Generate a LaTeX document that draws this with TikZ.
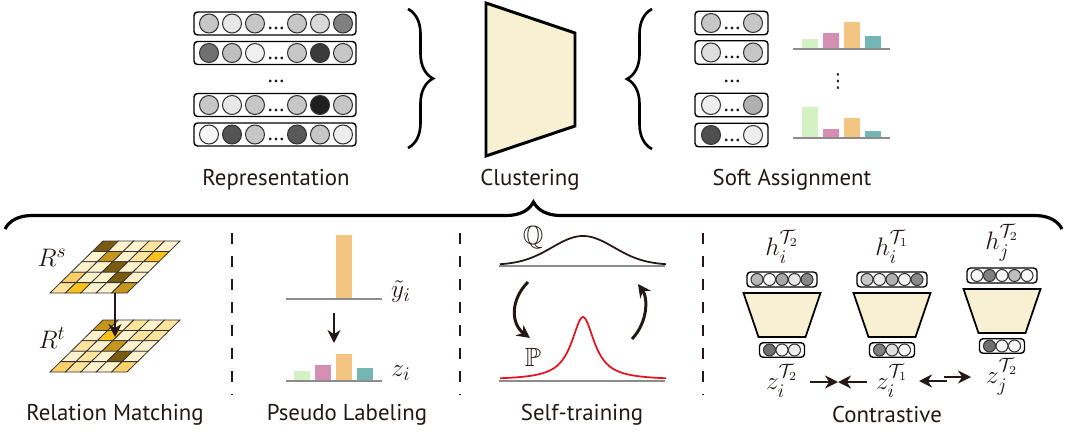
\documentclass[tikz,border=0pt]{standalone}
\usepackage{amsmath,amssymb}
\usepackage{fontspec}
\setmainfont{PT Sans}
\newfontfamily\symfont{DejaVu Sans}
\usetikzlibrary{arrows.meta,decorations.pathreplacing}
\definecolor{ink}{HTML}{231815}
\definecolor{cream}{HTML}{F7F0D3}
\definecolor{axisgray}{HTML}{8C8C8C}
\definecolor{barA}{HTML}{D4F1C4}
\definecolor{barB}{HTML}{D58FB2}
\definecolor{barC}{HTML}{F3C482}
\definecolor{barD}{HTML}{74B6B4}
\definecolor{cellC}{HTML}{FFF2CC}
\definecolor{cellL}{HTML}{FEE39C}
\definecolor{cellO}{HTML}{FBD06A}
\definecolor{cellY}{HTML}{FCC21C}
\definecolor{cellG}{HTML}{C6961C}
\definecolor{cellB}{HTML}{7B5B12}
\definecolor{peak}{HTML}{E5141E}

\begin{document}
\begin{tikzpicture}[x=0.02cm,y=-0.02cm,
  font=\fontsize{13}{15}\selectfont, text=ink,
  vec/.style={draw=black, line width=0.8pt, rounded corners=2pt, inner sep=0pt},
  unit/.style={draw=black!80, line width=0.6pt},
  enc/.style={draw=black, line width=1pt, fill=cream},
  axis/.style={draw=axisgray, line width=1.2pt},
  cell/.style={draw=black!80, line width=0.45pt},
  flow/.style={-{Stealth[length=2.6mm,width=2.6mm]}, line width=1.7pt, draw=ink},
  sep/.style={draw=ink, line width=1.7pt, dash pattern=on 0.22cm off 0.24cm},
  brc/.style={draw=black, line width=1.5pt, decorate},
  mlab/.style={font=\fontsize{15}{17}\selectfont}]

\path[use as bounding box] (0,0) rectangle (1069,433);

% ------------------------------------------------------------ representation
\foreach \y/\a/\b/\c/\d/\e/\f [count=\k] in
  {23.5/22/9/22/22/15/50, 53/56/25/6/22/77/22,
   105/22/9/22/22/88/22, 134.5/4/67/22/65/22/7} {
  \node[vec, minimum width=3.24cm, minimum height=0.46cm] (rep\k) at (275,\y) {};
  \foreach \x/\g in {209/\a,232/\b,255/\c,297/\d,320/\e,343/\f}
    \draw[unit, fill=black!\g] (\x,\y) circle (0.19cm);
  \node[anchor=base, inner sep=0pt] at (276,\y+6) {\ldots};
}
\node[anchor=base, inner sep=0pt] (repdots) at (276,82) {\ldots};
\node (replab) at (276,180) {Representation};

\coordinate (repTop) at (408,9);
\coordinate (repBot) at (408,148);
\draw[brc, decoration={brace, amplitude=0.5cm}] (repTop) -- (repBot);

% ---------------------------------------------------------------- clustering
\draw[enc, line width=1.7pt] (486,3) -- (575,33) -- (575,126) -- (486,156) -- cycle;
\node (clulab) at (530,180) {Clustering};

% ----------------------------------------------------------- soft assignment
\coordinate (asgTop) at (652,9);
\coordinate (asgBot) at (652,149);
\draw[brc, decoration={brace, amplitude=0.5cm}] (asgBot) -- (asgTop);

\foreach \y/\a/\b [count=\k] in {23/22/22, 52.5/13/22, 105/7/31, 135/69/7} {
  \node[vec, minimum width=1.46cm, minimum height=0.47cm] (asg\k) at (731.5,\y) {};
  \draw[unit, fill=black!\a] (711,\y) circle (0.19cm);
  \draw[unit, fill=black!\b] (753,\y) circle (0.19cm);
  \node[anchor=base, inner sep=0pt] at (732,\y+6) {\ldots};
}
\node[anchor=base, inner sep=0pt] (asgdots) at (732,82) {\ldots};

\foreach \x/\c/\t in {802/barA/39, 823/barB/33, 844/barC/22, 865/barD/36}
  \fill[\c] (\x,\t) rectangle (\x+16,49);
\draw[axis] (793,49) -- (890,49);
\node[font=\symfont\fontsize{11}{13}\selectfont] (vdots) at (838,81) {⋮};
\foreach \x/\c/\t in {802/barA/107, 823/barB/129, 844/barC/118, 865/barD/131}
  \fill[\c] (\x,\t) rectangle (\x+16,138);
\draw[axis] (793,138) -- (890,138);
\node (asglab) at (792,180) {Soft Assignment};

% big brace over the four objectives
\coordinate (braceL) at (5,229);
\coordinate (braceR) at (1062,229);
\draw[brc, line width=1.8pt, decoration={brace, amplitude=0.54cm}] (braceL) -- (braceR);

% separators
\foreach \x in {232,460,703}
  \draw[sep] (\x,233) -- (\x,395);

% ---------------------------------------------------------- relation matching
\begin{scope}[shift={(50,293)}, x={(0.308cm,0)}, y={(0.212cm,0.208cm)}]
  \foreach \row [count=\r] in {{B,C,C,L,C},{C,G,C,L,Y},{C,C,B,C,C},{O,C,C,B,C},{L,Y,C,C,G}}
    \foreach \col [count=\c] in \row
      \filldraw[cell, fill=cell\col] (\c-1,5-\r) -- ++(1,0) -- ++(0,1) -- ++(-1,0) -- cycle;
\end{scope}
\begin{scope}[shift={(50,372)}, x={(0.308cm,0)}, y={(0.212cm,0.208cm)}]
  \foreach \row [count=\r] in {{G,C,L,C,L},{C,Y,C,L,L},{L,C,G,C,C},{C,L,C,B,C},{O,L,C,C,O}}
    \foreach \col [count=\c] in \row
      \filldraw[cell, fill=cell\col] (\c-1,5-\r) -- ++(1,0) -- ++(0,1) -- ++(-1,0) -- cycle;
\end{scope}
\coordinate (rsFoot) at (115,293);
\coordinate (rtHit) at (115,337);
\draw[flow, line width=1.4pt] (rsFoot) -- (rtHit);
\node[mlab] (rslab) at (52,258) {$R^s$};
\node[mlab] (rtlab) at (52,338) {$R^t$};
\node (rmlab) at (115,415) {Relation Matching};

% ------------------------------------------------------------ pseudo labeling
\fill[barC] (336,235) rectangle (352,299);
\draw[axis] (286,299) -- (382,299);
\node[mlab] (ylab) at (401,292) {$\tilde{y}_i$};
\foreach \x/\c/\t in {294/barA/371, 315/barB/365, 336/barC/354, 357/barD/368}
  \fill[\c] (\x,\t) rectangle (\x+16,381);
\draw[axis] (286,381) -- (382,381);
\node[mlab] (zlab) at (401,373) {$z_i$};
\coordinate (plTop) at (334,313);
\coordinate (plBot) at (334,343);
\draw[flow, line width=1.4pt] (plTop) -- (plBot);
\node (pllab) at (347,415) {Pseudo Labeling};

% -------------------------------------------------------------- self-training
\draw[axis] (499,266) -- (665,266);
\draw[line width=1pt, draw=ink, domain=-83:83, samples=90, smooth, variable=\t]
  plot ({583+\t},{265-29*exp(-0.5*(\t/31)*(\t/31))});
\node[mlab] (qlab) at (533,238) {$\mathbb{Q}$};
\draw[axis] (499,381) -- (665,381);
\draw[line width=1pt, draw=peak, domain=-83:83, samples=160, smooth, variable=\t]
  plot ({583+\t},{380-63/(1+(\t/14)*(\t/14))});
\node[mlab] (plab) at (533,357) {$\mathbb{P}$};
\coordinate (qOut) at (528,282);
\coordinate (pIn) at (530,338);
\coordinate (pOut) at (632,339);
\coordinate (qIn) at (638,284);
\draw[flow] (qOut) .. controls (510,300) and (511,324) .. (pIn);
\draw[flow] (pOut) .. controls (648,322) and (648,298) .. (qIn);
\node (stlab) at (582,415) {Self-training};

% ---------------------------------------------------------------- contrastive
\foreach \n/\cx/\dy/\hl/\zl/\a/\b/\c/\d/\e/\p/\q/\r in
  {1/782/0/{h_i^{\mathcal{T}_2}}/{z_i^{\mathcal{T}_2}}/28/0/34/9/47/56/4/7,
   2/892/0/{h_i^{\mathcal{T}_1}}/{z_i^{\mathcal{T}_1}}/22/7/31/4/46/50/12/2,
   3/1002/-4/{h_j^{\mathcal{T}_2}}/{z_j^{\mathcal{T}_2}}/4/50/4/25/2/56/4/3} {
  \node[mlab] (h\n) at (\cx,247+\dy) {$\hl$};
  \node[vec, minimum width=1.4cm, minimum height=0.3cm] (in\n) at (\cx,279.5+\dy) {};
  \foreach \o/\g in {-25/\a,-12.5/\b,0/\c,12.5/\d,25/\e}
    \draw[unit, fill=black!\g] (\cx+\o,279.5+\dy) circle (0.12cm);
  \draw[enc] (\cx-38.5,293+\dy) -- (\cx+38.5,293+\dy) -- (\cx+23.5,337+\dy)
    -- (\cx-23.5,337+\dy) -- cycle;
  \node[vec, minimum width=0.9cm, minimum height=0.29cm] (out\n) at (\cx,350+\dy) {};
  \foreach \o/\g in {-12.5/\p,0/\q,12.5/\r}
    \draw[unit, fill=black!\g] (\cx+\o,350+\dy) circle (0.12cm);
  \node[mlab] (z\n) at (\cx,381+\dy) {$\zl$};
}
\coordinate (pullA) at (810,382);
\coordinate (pullB) at (838,382);
\coordinate (pullC) at (867,382);
\coordinate (pushA) at (947,381);
\coordinate (pushB) at (919,381);
\coordinate (pushC) at (944,377);
\coordinate (pushD) at (971,377);
\draw[flow] (pullA) -- (pullB);
\draw[flow] (pullC) -- (pullB);
\draw[flow] (pushA) -- (pushB);
\draw[flow] (pushC) -- (pushD);
\node (ctlab) at (887,415) {Contrastive};
\end{tikzpicture}
\end{document}
